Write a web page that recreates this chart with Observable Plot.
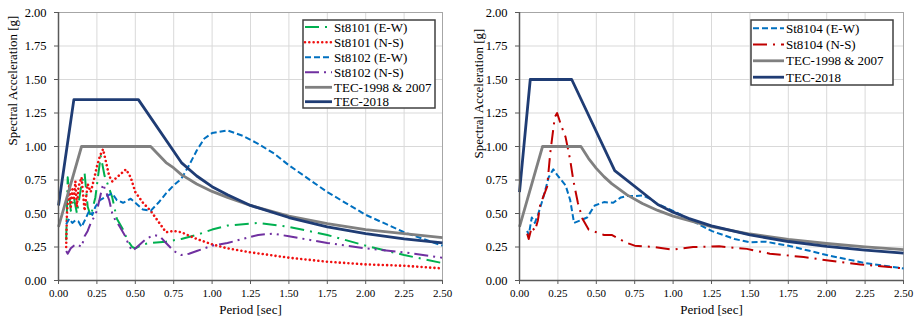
<!DOCTYPE html>
<html><head><meta charset="utf-8">
<script src="https://cdn.jsdelivr.net/npm/d3@7"></script>
<script src="https://cdn.jsdelivr.net/npm/@observablehq/plot@0.6"></script>
<style>
html,body{margin:0;padding:0;background:#fff;}
#wrap{position:relative;width:917px;height:323px;overflow:hidden;font-family:"Liberation Serif","Times New Roman",serif;}
.panel{position:absolute;top:0;}
.legend{position:absolute;top:0;left:0;}
</style>
</head><body>
<div id="wrap">
  <div class="panel" id="left" style="left:0px"></div>
  <div class="panel" id="right" style="left:460px"></div>
  <svg class="legend" id="legendSvg" width="917" height="323"></svg>
</div>
<script>
// ---------- axis ticks ----------
const xTicks = [0, 0.25, 0.5, 0.75, 1.0, 1.25, 1.5, 1.75, 2.0, 2.25, 2.5];
const xTickLabels = ["0.00","0.25","0.50","0.75","1.00","1.25","1.50","1.75","2.00","2.25","2.50"];
const yTicks = [0, 0.25, 0.5, 0.75, 1.0, 1.25, 1.5, 1.75, 2.0];
const yTickLabels = ["0.00","0.25","0.50","0.75","1.00","1.25","1.50","1.75","2.00"];
const xTitle = "Period [sec]";
const yTitle = "Spectral Acceleration [g]";

// ---------- left panel data ----------
const leftNames = ["St8101 (E-W)", "St8101 (N-S)", "St8102 (E-W)", "St8102 (N-S)", "TEC-1998 & 2007", "TEC-2018"];

const st8101EW_T  = [0.05,0.06,0.08,0.10,0.12,0.15,0.17,0.19,0.21,0.24,0.26,0.275,0.30,0.32,0.35,0.38,0.42,0.45,0.48,0.50,0.55,0.60,0.70,0.80,0.90,1.00,1.10,1.30,1.50,1.75,2.00,2.25,2.50];
const st8101EW_Sa = [0.30,0.77,0.52,0.62,0.50,0.72,0.80,0.55,0.48,0.62,0.80,0.93,0.78,0.72,0.62,0.46,0.38,0.30,0.25,0.24,0.27,0.28,0.29,0.31,0.34,0.38,0.41,0.43,0.40,0.34,0.26,0.19,0.13];

const st8101NS_T  = [0.05,0.055,0.07,0.08,0.09,0.10,0.11,0.12,0.13,0.15,0.17,0.19,0.21,0.23,0.25,0.27,0.29,0.31,0.33,0.35,0.38,0.41,0.44,0.47,0.50,0.55,0.60,0.65,0.70,0.75,0.80,0.90,1.00,1.10,1.25,1.50,1.75,2.00,2.25,2.50];
const st8101NS_Sa = [0.25,0.50,0.72,0.55,0.68,0.60,0.74,0.55,0.70,0.77,0.52,0.72,0.66,0.75,0.85,0.93,0.98,0.88,0.78,0.74,0.77,0.80,0.83,0.77,0.66,0.58,0.52,0.44,0.36,0.37,0.36,0.31,0.27,0.24,0.21,0.17,0.14,0.12,0.11,0.09];

const st8102EW_T  = [0.05,0.07,0.09,0.11,0.13,0.15,0.18,0.20,0.22,0.24,0.27,0.30,0.33,0.35,0.38,0.42,0.47,0.50,0.55,0.60,0.65,0.70,0.75,0.80,0.85,0.90,0.95,1.00,1.10,1.20,1.30,1.40,1.50,1.75,2.00,2.25,2.50];
const st8102EW_Sa = [0.42,0.46,0.43,0.45,0.44,0.40,0.47,0.52,0.49,0.55,0.60,0.62,0.64,0.65,0.60,0.58,0.61,0.58,0.53,0.52,0.58,0.65,0.71,0.76,0.86,0.97,1.06,1.10,1.12,1.08,1.02,0.95,0.86,0.66,0.49,0.36,0.26];

const st8102NS_T  = [0.05,0.06,0.08,0.10,0.12,0.15,0.17,0.19,0.21,0.23,0.25,0.27,0.29,0.31,0.33,0.35,0.37,0.40,0.43,0.46,0.48,0.52,0.57,0.62,0.66,0.70,0.75,0.80,0.85,0.90,1.00,1.10,1.20,1.30,1.40,1.50,1.75,2.00,2.25,2.50];
const st8102NS_Sa = [0.22,0.20,0.24,0.26,0.27,0.25,0.33,0.37,0.43,0.47,0.52,0.62,0.72,0.66,0.60,0.50,0.45,0.40,0.34,0.26,0.22,0.26,0.31,0.34,0.33,0.28,0.22,0.19,0.20,0.22,0.26,0.28,0.31,0.34,0.35,0.33,0.28,0.24,0.21,0.17];

const tec1998L_T  = [0,0.15,0.60,0.65,0.70,0.75,0.80,0.90,1.00,1.10,1.25,1.50,1.75,2.00,2.25,2.50];
const tec1998L_Sa = [0.40,1.00,1.00,0.94,0.88,0.84,0.79,0.72,0.665,0.62,0.56,0.48,0.425,0.38,0.35,0.32];

const tec2018L_T  = [0,0.10,0.52,0.80,0.90,1.00,1.10,1.25,1.50,1.75,2.00,2.25,2.50];
const tec2018L_Sa = [0.56,1.35,1.35,0.88,0.78,0.70,0.64,0.56,0.47,0.40,0.35,0.31,0.28];

// ---------- right panel data ----------
const rightNames = ["St8104 (E-W)", "St8104 (N-S)", "TEC-1998 & 2007", "TEC-2018"];

const st8104EW_T  = [0.05,0.06,0.08,0.10,0.12,0.15,0.19,0.22,0.25,0.30,0.33,0.355,0.40,0.44,0.49,0.55,0.61,0.66,0.70,0.75,0.80,0.85,0.90,1.00,1.10,1.25,1.40,1.50,1.60,1.75,2.00,2.25,2.50];
const st8104EW_Sa = [0.37,0.34,0.47,0.43,0.49,0.60,0.77,0.83,0.78,0.71,0.60,0.43,0.45,0.47,0.56,0.585,0.58,0.62,0.63,0.63,0.635,0.61,0.57,0.52,0.46,0.37,0.31,0.285,0.29,0.26,0.19,0.13,0.09];

const st8104NS_T  = [0.05,0.06,0.08,0.10,0.12,0.135,0.16,0.18,0.20,0.23,0.245,0.27,0.30,0.33,0.35,0.38,0.41,0.45,0.50,0.55,0.60,0.65,0.70,0.75,0.87,1.00,1.13,1.30,1.48,1.63,1.85,2.07,2.22,2.50];
const st8104NS_Sa = [0.35,0.31,0.40,0.37,0.45,0.57,0.64,0.70,0.95,1.22,1.25,1.16,1.07,0.90,0.75,0.58,0.46,0.38,0.36,0.34,0.34,0.31,0.28,0.26,0.25,0.23,0.25,0.255,0.236,0.20,0.175,0.14,0.12,0.09];

const tec1998R_T  = [0,0.15,0.40,0.45,0.50,0.55,0.60,0.70,0.80,0.90,1.00,1.25,1.50,1.75,2.00,2.25,2.50];
const tec1998R_Sa = [0.40,1.00,1.00,0.91,0.837,0.775,0.723,0.639,0.574,0.523,0.48,0.402,0.347,0.307,0.276,0.251,0.231];

const tec2018R_T  = [0,0.07,0.34,0.62,0.90,1.00,1.10,1.25,1.50,1.75,2.00,2.25,2.50];
const tec2018R_Sa = [0.66,1.50,1.50,0.82,0.567,0.51,0.464,0.408,0.34,0.291,0.255,0.227,0.204];

// ---------- styles ----------
const C = {green:"#00b050", red:"#f01010", blue:"#0070c0", purple:"#7030a0", gray:"#808080", navy:"#1f3c74", darkred:"#c00000"};
const styleDashDot = {dash:"14,6,2,6", width:2};
const leftStyles = [
  {color:C.green, dash:"14,6,2,6", width:2, cap:"butt"},
  {color:C.red, dash:"0.01,4.3", width:2.6, cap:"round"},
  {color:C.blue, dash:"6,3", width:2, cap:"butt"},
  {color:C.purple, dash:"14,5,2,5,2,5", width:2, cap:"butt"},
  {color:C.gray, dash:null, width:2.8, cap:"butt"},
  {color:C.navy, dash:null, width:2.8, cap:"butt"}
];
const rightStyles = [
  {color:C.blue, dash:"6,3", width:2, cap:"butt"},
  {color:C.darkred, dash:"14,6,2,6", width:2, cap:"butt"},
  {color:C.gray, dash:null, width:2.8, cap:"butt"},
  {color:C.navy, dash:null, width:2.8, cap:"butt"}
];

const leftSeries = [
  {T:st8101EW_T, Sa:st8101EW_Sa},
  {T:st8101NS_T, Sa:st8101NS_Sa},
  {T:st8102EW_T, Sa:st8102EW_Sa},
  {T:st8102NS_T, Sa:st8102NS_Sa},
  {T:tec1998L_T, Sa:tec1998L_Sa},
  {T:tec2018L_T, Sa:tec2018L_Sa}
];
const rightSeries = [
  {T:st8104EW_T, Sa:st8104EW_Sa},
  {T:st8104NS_T, Sa:st8104NS_Sa},
  {T:tec1998R_T, Sa:tec1998R_Sa},
  {T:tec2018R_T, Sa:tec2018R_Sa}
];

function makePanel(series, styles, width, mLeft, mRight, ylabDx, ylabDy) {
  const marks = [
    Plot.gridX(xTicks, {stroke:"#d9d9d9", strokeOpacity:1, strokeWidth:1}),
    Plot.gridY(yTicks, {stroke:"#d9d9d9", strokeOpacity:1, strokeWidth:1}),
    Plot.frame({stroke:"#a6a6a6", strokeWidth:1})
  ];
  series.forEach((s, i) => {
    const st = styles[i];
    const rows = s.T.map((t, j) => ({T: t, Sa: s.Sa[j]}));
    const o = {x:"T", y:"Sa", stroke:st.color, strokeWidth:st.width, strokeLinecap:st.cap, strokeLinejoin:"round"};
    if (st.dash) o.strokeDasharray = st.dash;
    marks.push(Plot.line(rows, o));
  });
  marks.push(Plot.ruleX([0], {stroke:"#595959", strokeWidth:1.5}));
  marks.push(Plot.ruleY([0], {stroke:"#595959", strokeWidth:1.5}));
  marks.push(Plot.axisX(xTicks, {tickSize:4, tickPadding:5, fontSize:11, stroke:"#595959", fill:"#000",
    tickFormat:d => xTickLabels[xTicks.indexOf(d)], label:null}));
  marks.push(Plot.axisY(yTicks, {tickSize:4, tickPadding:8, fontSize:12.5, stroke:"#595959", fill:"#000",
    tickFormat:d => yTickLabels[yTicks.indexOf(d)], label:null}));
  marks.push(Plot.text([xTitle], {text:d => d, frameAnchor:"bottom", dy:33, fontSize:13, fill:"#000"}));
  marks.push(Plot.text([yTitle], {text:d => d, frameAnchor:"left", rotate:-90, dx:ylabDx, dy:ylabDy, fontSize:13, fill:"#000"}));
  return Plot.plot({
    width, height:323,
    marginLeft:mLeft, marginRight:mRight, marginTop:12, marginBottom:43,
    x:{domain:[0,2.5], label:null},
    y:{domain:[0,2], label:null},
    style:{fontFamily:"'Liberation Serif','Times New Roman',serif", background:"transparent", color:"#000", overflow:"visible"},
    marks
  });
}

document.getElementById("left").appendChild(makePanel(leftSeries, leftStyles, 460, 58, 18, -46, -1));
document.getElementById("right").appendChild(makePanel(rightSeries, rightStyles, 457, 59, 14, -41, 12));

// ---------- legends (overlay boxes) ----------
function drawLegend(svg, names, styles, box, rowY, x0, x1, tx) {
  const ns = "http://www.w3.org/2000/svg";
  const r = document.createElementNS(ns, "rect");
  r.setAttribute("x", box.x); r.setAttribute("y", box.y);
  r.setAttribute("width", box.w); r.setAttribute("height", box.h);
  r.setAttribute("fill", "#fff"); r.setAttribute("stroke", "#404040"); r.setAttribute("stroke-width", "1.5");
  svg.appendChild(r);
  names.forEach((n, i) => {
    const st = styles[i];
    const y = rowY[i];
    const l = document.createElementNS(ns, "line");
    l.setAttribute("x1", x0); l.setAttribute("x2", x1);
    l.setAttribute("y1", y); l.setAttribute("y2", y);
    l.setAttribute("stroke", st.color); l.setAttribute("stroke-width", st.width);
    l.setAttribute("stroke-linecap", st.cap);
    if (st.dash) l.setAttribute("stroke-dasharray", st.dash);
    svg.appendChild(l);
    const t = document.createElementNS(ns, "text");
    t.setAttribute("x", tx); t.setAttribute("y", y);
    t.setAttribute("dy", "0.35em");
    t.setAttribute("font-family", "'Liberation Serif','Times New Roman',serif");
    t.setAttribute("font-size", "13");
    t.setAttribute("fill", "#000");
    t.textContent = n;
    svg.appendChild(t);
  });
}
const lsvg = document.getElementById("legendSvg");
drawLegend(lsvg, leftNames, leftStyles, {x:303, y:20, w:132, h:88}, [27, 42.2, 57.3, 72.3, 87.3, 101.7], 305, 332, 334);
drawLegend(lsvg, rightNames, rightStyles, {x:751, y:20, w:142, h:65}, [28.3, 44.5, 60.8, 77.2], 753, 784, 786);
</script>
</body></html>
